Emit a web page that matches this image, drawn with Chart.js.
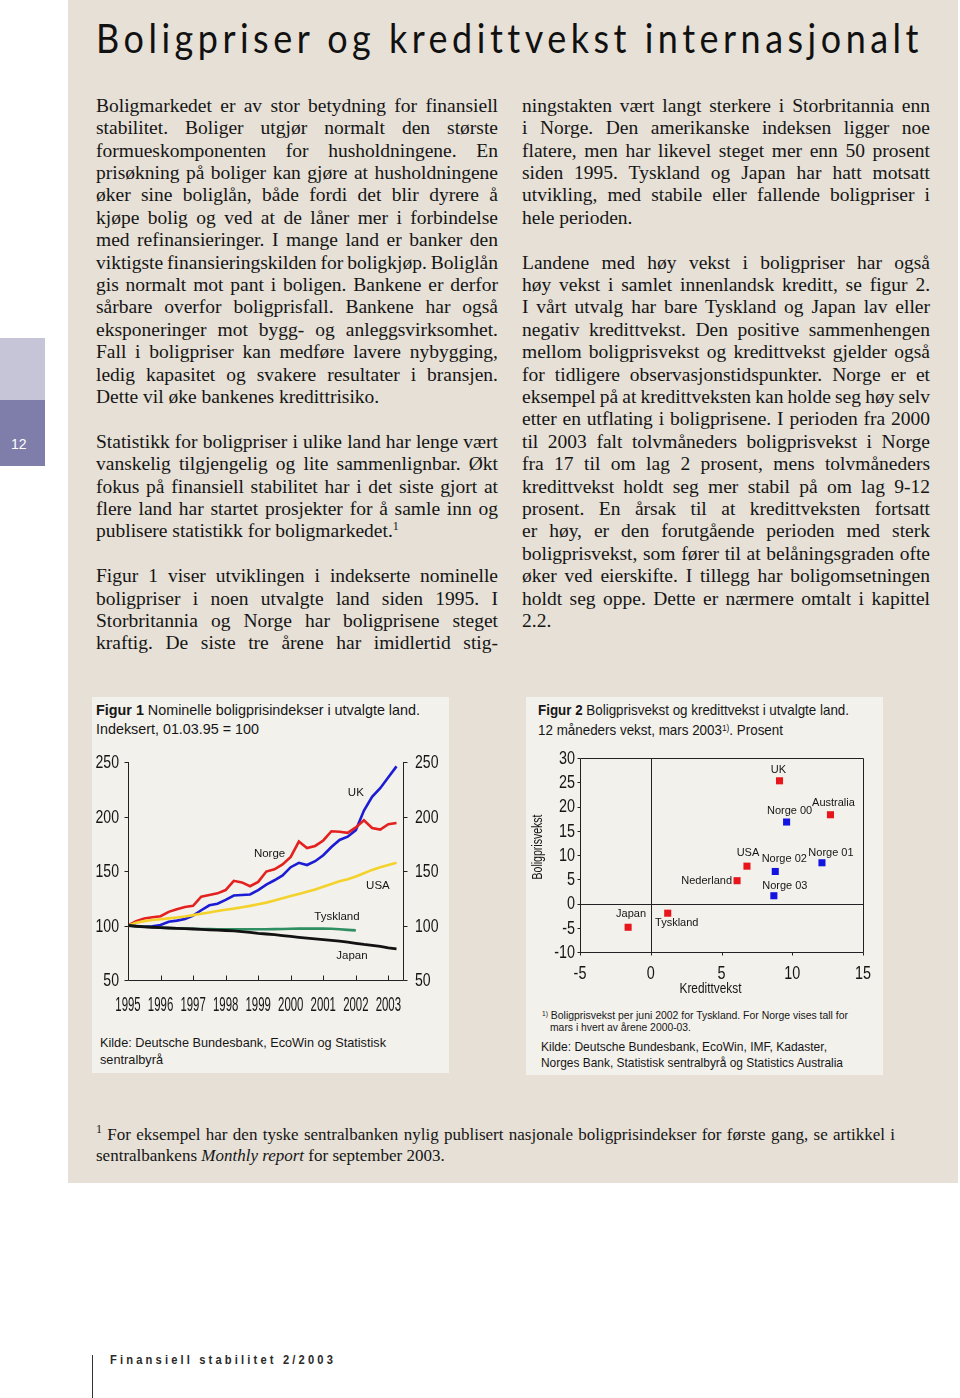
<!DOCTYPE html>
<html>
<head>
<meta charset="utf-8">
<script src="https://cdn.jsdelivr.net/npm/chart.js@4.4.1/dist/chart.umd.min.js"></script>
<style>
  body { margin: 0; width: 960px; height: 1398px; background: #fff; position: relative; overflow: hidden; color: #151515; font-family: "Liberation Serif", serif; }
  .abs { position: absolute; white-space: nowrap; }
  .line { position: absolute; white-space: nowrap; font-size: 19.5px; line-height: 22.4px; }
  .sans { font-family: "Liberation Sans", Arial, sans-serif; }
  sup { font-size: 12px; line-height: 0; vertical-align: 7px; }
  canvas { position: absolute; }
</style>
</head>
<body>
<div class="abs" style="left:68px;top:0;width:890px;height:1183px;background:#e6e0d6"></div>
<div class="abs" style="left:0;top:338px;width:45px;height:62px;background:#c6c5d8"></div>
<div class="abs" style="left:0;top:400px;width:45px;height:66px;background:#7f7eaa"></div>
<div class="abs sans" style="left:11px;top:436px;font-size:14px;color:#fff;line-height:16px">12</div>

<div class="abs" style="left:92px;top:697px;width:357px;height:376px;background:#f3f1ec"></div>
<div class="abs" style="left:526px;top:697px;width:357px;height:378px;background:#f3f1ec"></div>

<canvas id="fig1" width="357" height="280" style="left:92px;top:745px"></canvas>
<canvas id="fig2" width="357" height="255" style="left:526px;top:745px"></canvas>

<div class="abs" style="left:92px;top:1355px;width:1px;height:43px;background:#333"></div>

<script>
// ---- figur 1: boligprisindekser, kvartalstall 1995K1-2003K2 ----
const quarters = [
  '1995K1','1995K2','1995K3','1995K4','1996K1','1996K2','1996K3','1996K4',
  '1997K1','1997K2','1997K3','1997K4','1998K1','1998K2','1998K3','1998K4',
  '1999K1','1999K2','1999K3','1999K4','2000K1','2000K2','2000K3','2000K4',
  '2001K1','2001K2','2001K3','2001K4','2002K1','2002K2','2002K3','2002K4',
  '2003K1','2003K2'
];
const norge = [100, 104, 106.5, 107.5, 108.5, 112.5, 115, 117, 118, 126.5, 128, 129.5,
  132.5, 141, 139.5, 136, 140, 149.5, 151.5, 156, 163, 177, 171, 173,
  178, 186.5, 186, 185, 190, 196.5, 189.5, 188, 193, 194];
const uk = [100, 99.5, 99, 99.2, 100.5, 103.5, 104.5, 106, 109, 114, 118.5, 120,
  123.5, 127.5, 128, 128.5, 132.5, 137.5, 141.5, 146, 153.5, 157.5, 155.5, 159,
  164.5, 172, 178.5, 181.5, 187.5, 205.5, 218, 226, 236, 246];
const usa = [100, 102.5, 104, 105, 105.8, 106.5, 107.3, 108.2, 109.5, 110.7, 112, 113.3,
  114.5, 115.5, 116.7, 118, 119.5, 121, 123, 125, 127, 129, 131, 133,
  135.5, 138, 140.5, 142.5, 145, 148, 151, 153.5, 155.5, 157.5];
const tyskland = [100, 99.3, 98.8, 98.4, 98, 97.7, 97.5, 97.2, 97, 96.8, 96.7, 96.6,
  96.5, 96.5, 96.5, 96.5, 96.5, 96.6, 96.7, 96.8, 97, 97.1, 97.1, 97.1,
  97.1, 97, 96.6, 96, 95.5];
const japan = [100, 99.3, 98.8, 98.4, 98, 97.7, 97.4, 97.1, 96.8, 96.4, 96, 95.7,
  95.4, 95, 94.4, 93.6, 92.8, 92.2, 91.6, 90.8, 90, 89.2, 88.5, 87.8,
  87.1, 86.4, 85.6, 84.8, 83.7, 82.6, 81.7, 80.8, 79.5, 78.6];
const yearTicks = [1995, 1996, 1997, 1998, 1999, 2000, 2001, 2002, 2003];
const indexTicks = [50, 100, 150, 200, 250];
// navn på linjene, plassert i dataenheter (år, indeks)
const lineNames = ['UK', 'Norge', 'USA', 'Tyskland', 'Japan'];
const lineNameAt = [[2002.0, 221.5], [1999.35, 165.5], [2002.68, 136], [2001.42, 108], [2001.88, 72]];

// ---- figur 2: boligprisvekst mot kredittvekst ----
const landNavn = ['UK', 'Australia', 'USA', 'Nederland', 'Tyskland', 'Japan'];
const landKreditt = [9.1, 12.7, 6.8, 6.1, 1.2, -1.6];
const landBolig = [25.3, 18.3, 7.7, 4.7, -2.0, -4.9];
const norgeNavn = ['Norge 00', 'Norge 01', 'Norge 02', 'Norge 03'];
const norgeKreditt = [9.6, 12.1, 8.8, 8.7];
const norgeBolig = [16.8, 8.4, 6.6, 1.6];
const kredittTicks = [-5, 0, 5, 10, 15];
const boligTicks = [-10, -5, 0, 5, 10, 15, 20, 25, 30];

const toYear = q => Number(q.slice(0, 4)) + (Number(q.slice(5)) - 1) / 4;
const series = vals => vals.map((v, i) => ({x: toYear(quarters[i]), y: v}));

const SANS = '"Liberation Sans", Arial, sans-serif';

// smal (kondensert) tekst: fillText med maxWidth presser glyfene sammen
function squeezeText(ctx, t, x, y, k) {
  ctx.fillText(t, x, y, ctx.measureText(t).width * k);
}

const fig1Frame = {
  id: 'fig1Frame',
  afterDatasetsDraw(chart) {
    const {ctx, chartArea: a} = chart;
    const x = chart.scales.x, y = chart.scales.y;
    ctx.save();
    ctx.strokeStyle = '#222';
    ctx.lineWidth = 1;
    ctx.beginPath();
    const L = Math.round(a.left) + 0.5, R = Math.round(a.right) + 0.5, B = Math.round(a.bottom) + 0.5;
    ctx.moveTo(L, a.top); ctx.lineTo(L, B); ctx.lineTo(R, B); ctx.lineTo(R, a.top);
    indexTicks.forEach(v => {
      const py = Math.round(y.getPixelForValue(v)) + 0.5;
      ctx.moveTo(L - 4, py); ctx.lineTo(L, py);
      ctx.moveTo(R, py); ctx.lineTo(R + 4, py);
    });
    yearTicks.slice(1).forEach(v => {
      const px = Math.round(x.getPixelForValue(v)) + 0.5;
      ctx.moveTo(px, B); ctx.lineTo(px, B - 5);
    });
    ctx.stroke();

    ctx.fillStyle = '#151515';
    ctx.textBaseline = 'middle';
    ctx.font = '19px ' + SANS;
    indexTicks.forEach(v => {
      const py = y.getPixelForValue(v);
      ctx.textAlign = 'right'; squeezeText(ctx, String(v), a.left - 9, py + 1, 0.74);
      ctx.textAlign = 'left'; squeezeText(ctx, String(v), a.right + 12, py + 1, 0.74);
    });
    ctx.textAlign = 'center';
    ctx.font = '20px ' + SANS;
    yearTicks.forEach(v => {
      squeezeText(ctx, String(v), x.getPixelForValue(v), a.bottom + 25, 0.57);
    });

    ctx.font = '11.5px ' + SANS;
    lineNames.forEach((n, i) => {
      ctx.fillText(n, x.getPixelForValue(lineNameAt[i][0]), y.getPixelForValue(lineNameAt[i][1]));
    });
    ctx.restore();
  }
};

const lineStyle = (label, vals, color, w) => ({
  label, data: series(vals), borderColor: color, borderWidth: w,
  pointRadius: 0, tension: 0, fill: false
});

new Chart('fig1', {
  type: 'line',
  data: {
    datasets: [
      lineStyle('Japan', japan, '#121212', 2.8),
      lineStyle('Tyskland', tyskland, '#2f8f62', 2.6),
      lineStyle('USA', usa, '#f4d22c', 2.6),
      lineStyle('Norge', norge, '#e3211f', 2.6),
      lineStyle('UK', uk, '#1c1cd4', 2.6)
    ]
  },
  options: {
    responsive: false,
    animation: false,
    layout: {padding: {top: 17, left: 0, right: 0, bottom: 0}},
    plugins: {legend: {display: false}, tooltip: {enabled: false}},
    scales: {
      x: {type: 'linear', min: 1995, max: 2003.45,
        ticks: {display: false}, grid: {display: false}, border: {display: false},
        afterFit: s => { s.height = 45; }},
      y: {position: 'left', min: 50, max: 250,
        ticks: {display: false}, grid: {display: false}, border: {display: false},
        afterFit: s => { s.width = 36; }},
      y2: {position: 'right', min: 50, max: 250,
        ticks: {display: false}, grid: {display: false}, border: {display: false},
        afterFit: s => { s.width = 46; }}
    }
  },
  plugins: [fig1Frame]
});

// etikett-forskyvning i piksler for punktene i figur 2
const landOffset = [[-1, -11], [3, -12], [1, -13], [-5, 0, 'right'], [9, 10], [3, -13]];
const norgeOffset = [[3, -11], [9, -10], [9, -13], [11, -10]];

const fig2Frame = {
  id: 'fig2Frame',
  beforeDatasetsDraw(chart) {
    const {ctx, chartArea: a} = chart;
    const x = chart.scales.x, y = chart.scales.y;
    ctx.save();
    ctx.strokeStyle = '#222';
    ctx.lineWidth = 1;
    const L = Math.round(a.left) + 0.5, R = Math.round(a.right) + 0.5;
    const T = Math.round(a.top) + 0.5, B = Math.round(a.bottom) + 0.5;
    ctx.beginPath();
    ctx.rect(L, T, R - L, B - T);
    const x0 = Math.round(x.getPixelForValue(0)) + 0.5, y0 = Math.round(y.getPixelForValue(0)) + 0.5;
    ctx.moveTo(x0, T); ctx.lineTo(x0, B);
    ctx.moveTo(L, y0); ctx.lineTo(R, y0);
    boligTicks.forEach(v => {
      const py = Math.round(y.getPixelForValue(v)) + 0.5;
      ctx.moveTo(L - 3, py); ctx.lineTo(L, py);
    });
    kredittTicks.forEach(v => {
      const px = Math.round(x.getPixelForValue(v)) + 0.5;
      ctx.moveTo(px, B); ctx.lineTo(px, B + 3);
    });
    ctx.stroke();

    ctx.fillStyle = '#151515';
    ctx.textBaseline = 'middle';
    ctx.font = '18px ' + SANS;
    ctx.textAlign = 'right';
    boligTicks.forEach(v => squeezeText(ctx, String(v), a.left - 5, y.getPixelForValue(v) + 1, 0.8));
    ctx.textAlign = 'center';
    kredittTicks.forEach(v => squeezeText(ctx, String(v), x.getPixelForValue(v), a.bottom + 22, 0.8));
    ctx.font = '15px ' + SANS;
    ctx.fillText('Kredittvekst', (a.left + a.right) / 2 - 11, a.bottom + 37, 62);
    ctx.save();
    ctx.translate(12, 102);
    ctx.rotate(-Math.PI / 2);
    ctx.font = '15px ' + SANS;
    ctx.fillText('Boligprisvekst', 0, 0, 65);
    ctx.restore();
    ctx.restore();
  },
  afterDatasetsDraw(chart) {
    const {ctx} = chart;
    const x = chart.scales.x, y = chart.scales.y;
    ctx.save();
    ctx.fillStyle = '#151515';
    ctx.textBaseline = 'middle';
    ctx.font = '11px ' + SANS;
    const put = (names, xs, ys, offs) => names.forEach((n, i) => {
      const o = offs[i];
      ctx.textAlign = o[2] || 'center';
      ctx.fillText(n, x.getPixelForValue(xs[i]) + o[0], y.getPixelForValue(ys[i]) + o[1]);
    });
    put(landNavn, landKreditt, landBolig, landOffset);
    put(norgeNavn, norgeKreditt, norgeBolig, norgeOffset);
    ctx.restore();
  }
};

new Chart('fig2', {
  type: 'scatter',
  data: {
    datasets: [
      {label: 'Land', data: landKreditt.map((v, i) => ({x: v, y: landBolig[i]})),
        pointStyle: 'rect', pointRadius: 5, backgroundColor: '#e8161b', borderWidth: 0},
      {label: 'Norge', data: norgeKreditt.map((v, i) => ({x: v, y: norgeBolig[i]})),
        pointStyle: 'rect', pointRadius: 5, backgroundColor: '#1414e0', borderWidth: 0}
    ]
  },
  options: {
    responsive: false,
    animation: false,
    layout: {padding: {top: 13, left: 0, right: 20, bottom: 0}},
    plugins: {legend: {display: false}, tooltip: {enabled: false}},
    scales: {
      x: {type: 'linear', min: -5, max: 15,
        ticks: {display: false}, grid: {display: false}, border: {display: false},
        afterFit: s => { s.height = 48; }},
      y: {position: 'left', min: -10, max: 30,
        ticks: {display: false}, grid: {display: false}, border: {display: false},
        afterFit: s => { s.width = 54; }}
    }
  },
  plugins: [fig2Frame]
});

// ---- tekst ----
const leftColumn = [
  [['Boligmarkedet er av stor betydning for finansiell',
    'stabilitet. Boliger utgjør normalt den største',
    'formueskomponenten for husholdningene. En',
    'prisøkning på boliger kan gjøre at husholdningene',
    'øker sine boliglån, både fordi det blir dyrere å',
    'kjøpe bolig og ved at de låner mer i forbindelse',
    'med refinansieringer. I mange land er banker den',
    'viktigste finansieringskilden for boligkjøp. Boliglån',
    'gis normalt mot pant i boligen. Bankene er derfor',
    'sårbare overfor boligprisfall. Bankene har også',
    'eksponeringer mot bygg- og anleggsvirksomhet.',
    'Fall i boligpriser kan medføre lavere nybygging,',
    'ledig kapasitet og svakere resultater i bransjen.',
    'Dette vil øke bankenes kredittrisiko.'], true],
  [['Statistikk for boligpriser i ulike land har lenge vært',
    'vanskelig tilgjengelig og lite sammenlignbar. Økt',
    'fokus på finansiell stabilitet har i det siste gjort at',
    'flere land har startet prosjekter for å samle inn og',
    'publisere statistikk for boligmarkedet.<sup>1</sup>'], true],
  [['Figur 1 viser utviklingen i indekserte nominelle',
    'boligpriser i noen utvalgte land siden 1995. I',
    'Storbritannia og Norge har boligprisene steget',
    'kraftig. De siste tre årene har imidlertid stig-'], false]
];
const rightColumn = [
  [['ningstakten vært langt sterkere i Storbritannia enn',
    'i Norge. Den amerikanske indeksen ligger noe',
    'flatere, men har likevel steget mer enn 50 prosent',
    'siden 1995. Tyskland og Japan har hatt motsatt',
    'utvikling, med stabile eller fallende boligpriser i',
    'hele perioden.'], true],
  [['Landene med høy vekst i boligpriser har også',
    'høy vekst i samlet innenlandsk kreditt, se figur 2.',
    'I vårt utvalg har bare Tyskland og Japan lav eller',
    'negativ kredittvekst. Den positive sammenhengen',
    'mellom boligprisvekst og kredittvekst gjelder også',
    'for tidligere observasjonstidspunkter. Norge er et',
    'eksempel på at kredittveksten kan holde seg høy selv',
    'etter en utflating i boligprisene. I perioden fra 2000',
    'til 2003 falt tolvmåneders boligprisvekst i Norge',
    'fra 17 til om lag 2 prosent, mens tolvmåneders',
    'kredittvekst holdt seg mer stabil på om lag 9-12',
    'prosent. En årsak til at kredittveksten fortsatt',
    'er høy, er den forutgående perioden med sterk',
    'boligprisvekst, som fører til at belåningsgraden ofte',
    'øker ved eierskifte. I tillegg har boligomsetningen',
    'holdt seg oppe. Dette er nærmere omtalt i kapittel',
    '2.2.'], true]
];

function addDiv(html, css, cls) {
  const d = document.createElement('div');
  d.className = cls || 'abs';
  d.innerHTML = html;
  Object.assign(d.style, css);
  document.body.appendChild(d);
  return d;
}

// strekk en linje til gitt bredde med ordmellomrom (eller bokstavavstand)
function justify(d, width) {
  const w = d.getBoundingClientRect().width;
  const spaces = (d.textContent.match(/ /g) || []).length;
  if (!spaces) return;
  let ws = (width - w) / spaces;
  if (ws < -1.5) {
    const chars = d.textContent.length;
    d.style.letterSpacing = ((width - w + 1.5 * spaces) / chars) + 'px';
    ws = -1.5;
  }
  d.style.wordSpacing = ws + 'px';
}

// skaler horisontalt slik at teksten får gitt bredde
function fitWidth(d, width) {
  const w = d.getBoundingClientRect().width;
  d.style.transformOrigin = '0 50%';
  d.style.transform = 'scaleX(' + (width / w) + ')';
}

function layColumn(col, left, width) {
  let row = 0;
  col.forEach(([lines, ragged]) => {
    lines.forEach((t, i) => {
      const d = addDiv(t, {left: left + 'px', top: (94.8 + row * 22.4) + 'px'}, 'line');
      if (!(ragged && i === lines.length - 1)) justify(d, width);
      row++;
    });
    row++;
  });
}
layColumn(leftColumn, 96, 402);
layColumn(rightColumn, 522, 408);

// overskrift
const title = addDiv('Boligpriser og kredittvekst internasjonalt',
  {left: '96px', top: '15px', fontFamily: 'Lato, "Open Sans", sans-serif', fontSize: '40px',
   lineHeight: '46px', letterSpacing: '5px', color: '#111'});
fitWidth(title, 827);

// figurtekster
const texts = [
  ['<b>Figur 1</b> Nominelle boligprisindekser i utvalgte land.', 96, 711, 14.5, 324],
  ['Indeksert, 01.03.95 = 100', 96, 730, 14.5, 163],
  ['Kilde: Deutsche Bundesbank, EcoWin og Statistisk', 100, 1043, 13.5, 286],
  ['sentralbyrå', 100, 1060, 13.5, 63],
  ['<b>Figur 2</b> Boligprisvekst og kredittvekst i utvalgte land.', 538, 711, 14.5, 311],
  ['12 måneders vekst, mars 2003<span style="font-size:9px;vertical-align:4px">1)</span>. Prosent', 538, 729, 14.5, 245],
  ['<span style="font-size:7px;vertical-align:3px">1)</span> Boligprisvekst per juni 2002 for Tyskland. For Norge vises tall for', 542, 1014, 11, 306],
  ['mars i hvert av årene 2000-03.', 550, 1028, 11, 141],
  ['Kilde: Deutsche Bundesbank, EcoWin, IMF, Kadaster,', 541, 1047, 13, 286],
  ['Norges Bank, Statistisk sentralbyrå og Statistics Australia', 541, 1063, 13, 302]
];
texts.forEach(([t, x, y, fs, w]) => {
  const d = addDiv(t, {left: x + 'px', top: (y - fs * 0.6) + 'px', fontFamily: SANS, fontSize: fs + 'px',
    lineHeight: (fs * 1.2) + 'px', color: '#161616'});
  fitWidth(d, w);
});

// fotnote
const fn1 = addDiv('<sup>1</sup> For eksempel har den tyske sentralbanken nylig publisert nasjonale boligprisindekser for første gang, se artikkel i',
  {left: '96px', top: '1125px', fontSize: '17px', lineHeight: '20px'});
justify(fn1, 799);
addDiv('sentralbankens <i>Monthly report</i> for september 2003.',
  {left: '96px', top: '1146px', fontSize: '17px', lineHeight: '20px'});

// bunntekst
const foot = addDiv('Finansiell stabilitet 2/2003',
  {left: '110px', top: '1353px', fontFamily: SANS, fontSize: '12px', fontWeight: 'bold',
   letterSpacing: '3.4px', lineHeight: '14px', color: '#2a2a2a'});
fitWidth(foot, 226);
</script>
</body>
</html>
